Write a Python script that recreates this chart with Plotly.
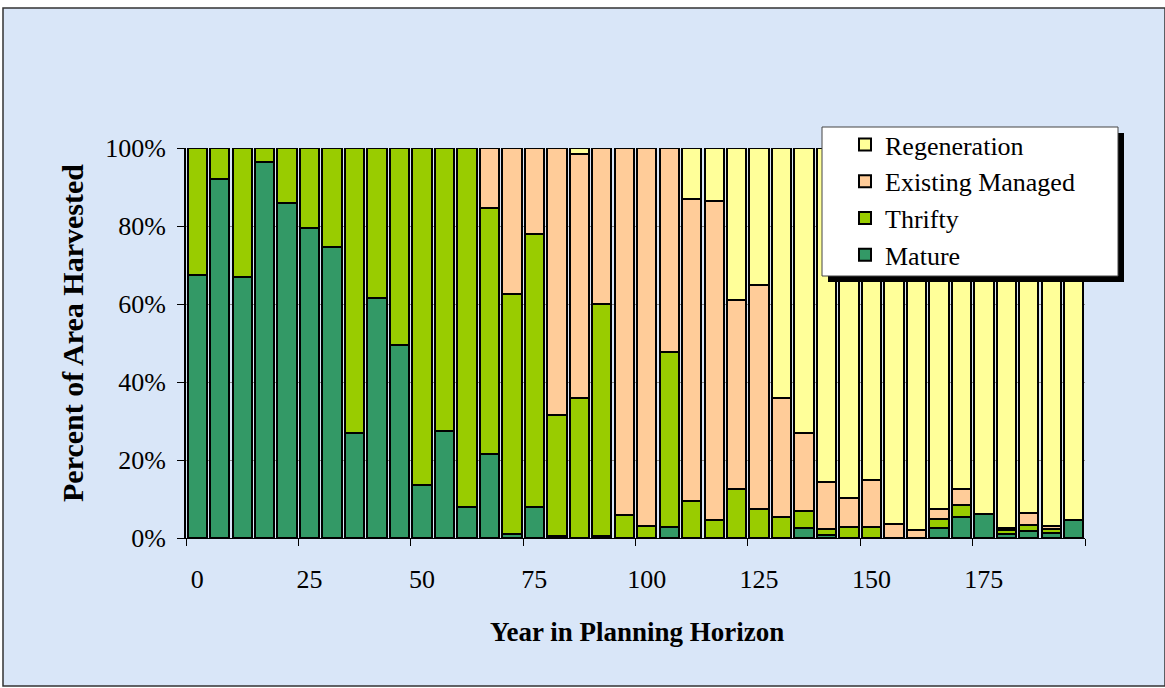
import plotly.graph_objects as go

# Planning-horizon years (one bar every 5 years)
years = list(range(0, 200, 5))

# Percent of harvested area by stand type, per period
mature = [67.5, 92, 67, 96.5, 86, 79.5, 74.5, 27, 61.5, 49.5,
          13.5, 27.5, 8, 21.5, 1, 8, 0.5, 0, 0.5, 0,
          0, 2.7, 0, 0, 0, 0, 0, 2.5, 0.8, 0,
          0, 0, 0, 2.5, 5.3, 6.2, 1, 1.9, 1.4, 4.6]
thrifty = [32.5, 8, 33, 3.5, 14, 20.5, 25.5, 73, 38.5, 50.5,
           86.5, 72.5, 92, 63, 61.5, 70, 31, 36, 59.5, 6,
           3, 45, 9.5, 4.5, 12.5, 7.5, 5.5, 4.5, 1.5, 2.7,
           2.7, 0, 0, 2.5, 3.2, 0, 1, 1.4, 0.8, 0]
existing = [0, 0, 0, 0, 0, 0, 0, 0, 0, 0,
            0, 0, 0, 15.5, 37.5, 22, 68.5, 62.5, 40, 94,
            97, 52.3, 77.5, 82, 48.5, 57.5, 30.5, 20, 12, 7.5,
            12.3, 3.6, 2, 2.5, 4, 0, 0.5, 3, 0.9, 0]
regeneration = [0, 0, 0, 0, 0, 0, 0, 0, 0, 0,
                0, 0, 0, 0, 0, 0, 0, 1.5, 0, 0,
                0, 0, 13, 13.5, 39, 35, 64, 73, 85.7, 89.8,
                85, 96.4, 98, 92.5, 87.5, 93.8, 97.5, 93.7, 96.9, 95.4]

x_labels = list(range(0, 200, 25))
y_ticks = [0, 20, 40, 60, 80, 100]

series = [
    ("Mature", mature, "#339966"),
    ("Thrifty", thrifty, "#99CC00"),
    ("Existing Managed", existing, "#FFCC99"),
    ("Regeneration", regeneration, "#FFFF99"),
]

FONT = "Liberation Serif"

fig = go.Figure()
for name, vals, color in series:
    fig.add_trace(go.Bar(
        x=years, y=vals, name=name,
        marker=dict(color=color, line=dict(color="black", width=2)),
    ))

W, H = 1165, 688
L, R, T, B = 186, 80, 148, 150
pw, ph = W - L - R, H - T - B


def px_x(v):
    return (v - L) / pw


def px_y(v):
    return (H - B - v) / ph


fig.update_layout(
    width=W, height=H,
    margin=dict(l=L, r=R, t=T, b=B),
    barmode="stack",
    bargap=0.14,
    paper_bgcolor="white",
    plot_bgcolor="white",
    font=dict(family=FONT, size=26, color="black"),
    xaxis=dict(
        range=[-2.5, 197.5],
        tickmode="array", tickvals=x_labels,
        ticktext=[str(v) for v in x_labels],
        ticks="", showgrid=False, zeroline=False,
        showline=True, linecolor="black", linewidth=1,
        ticklabelstandoff=18,
        minor=dict(tickmode="array",
                   tickvals=[-2.5 + 25 * k for k in range(9)],
                   ticks="outside", ticklen=7, tickcolor="black",
                   showgrid=False),
    ),
    yaxis=dict(
        range=[0, 100],
        tickmode="array", tickvals=y_ticks,
        ticktext=[f"{v}%" for v in y_ticks],
        ticks="outside", ticklen=7, tickcolor="black",
        showgrid=True, gridcolor="#8c8c8c", gridwidth=1,
        zeroline=False,
        showline=True, linecolor="black", linewidth=2,
        ticklabelstandoff=6,
    ),
    legend=dict(
        x=px_x(845), y=px_y(121), xanchor="left", yanchor="top",
        bgcolor="rgba(0,0,0,0)", borderwidth=0,
        traceorder="reversed",
        font=dict(family=FONT, size=26, color="black"),
    ),
    showlegend=True,
)

# Chart background panel with border
fig.add_shape(type="rect", xref="paper", yref="paper",
              x0=px_x(3), x1=px_x(1165), y0=px_y(686), y1=px_y(8),
              fillcolor="#D9E6F8", line=dict(color="#333333", width=1.5),
              layer="below")

# Legend box with drop shadow
fig.add_shape(type="rect", xref="paper", yref="paper",
              x0=px_x(828), x1=px_x(1124), y0=px_y(282), y1=px_y(133),
              fillcolor="black", line=dict(width=0), layer="above")
fig.add_shape(type="rect", xref="paper", yref="paper",
              x0=px_x(822), x1=px_x(1118), y0=px_y(276), y1=px_y(127),
              fillcolor="white", line=dict(color="#444444", width=1),
              layer="above")

# Axis titles
fig.add_annotation(text="<b>Year in Planning Horizon</b>",
                   xref="paper", yref="paper",
                   x=px_x(637), y=px_y(632),
                   xanchor="center", yanchor="middle", showarrow=False,
                   font=dict(family=FONT, size=27, color="black"))
fig.add_annotation(text="<b>Percent of Area Harvested</b>",
                   xref="paper", yref="paper",
                   x=px_x(72), y=px_y(333), textangle=-90,
                   xanchor="center", yanchor="middle", showarrow=False,
                   font=dict(family=FONT, size=30, color="black"))

fig.write_html("out.html")
